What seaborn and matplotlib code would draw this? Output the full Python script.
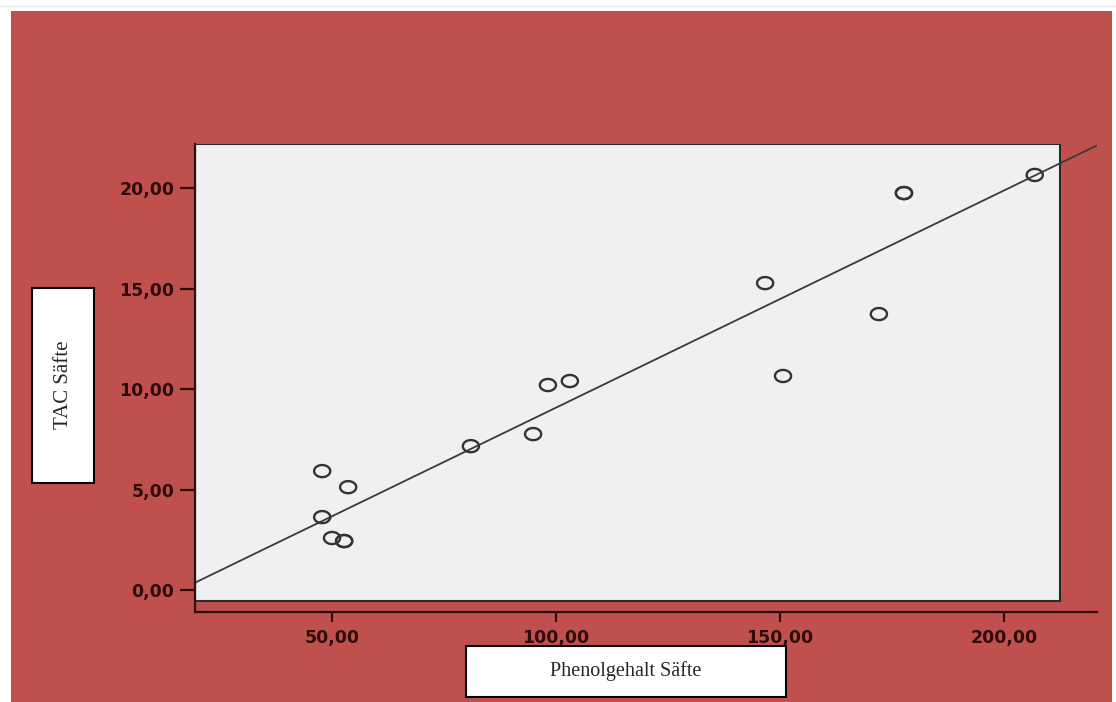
import numpy as np
import pandas as pd
import seaborn as sns
import matplotlib.pyplot as plt
from matplotlib.patches import Rectangle
from matplotlib.path import Path
from matplotlib.ticker import FuncFormatter

# values (Phenolgehalt vs. TAC of juices)
phenol = [206.9, 177.7, 177.7, 146.7, 172.1, 150.7, 98.2, 103.1, 81.0, 94.9,
          47.8, 53.6, 47.8, 50.0, 52.7, 52.7]
tac = [20.65, 19.75, 19.75, 15.27, 13.73, 10.65, 10.2, 10.4, 7.16, 7.76,
       5.92, 5.12, 3.63, 2.59, 2.44, 2.44]
x_ticks = [50, 100, 150, 200]
y_ticks = [0, 5, 10, 15, 20]
x_label = "Phenolgehalt Säfte"
y_label = "TAC Säfte"

df = pd.DataFrame({"phenol": phenol, "tac": tac})

sns.set_style("ticks")
plt.rcParams['font.family'] = ['DejaVu Sans']

W, H = 1116, 702
red = "#C0504D"
dark = "#2e0c0c"

fig = plt.figure(figsize=(W / 100, H / 100), dpi=100, facecolor="white")


def fx(px):
    return px / W


def fy(py):
    return 1 - py / H


# red background panel
fig.patches.append(Rectangle((fx(11), fy(702)), fx(1112) - fx(11), fy(11) - fy(702),
                             transform=fig.transFigure, facecolor=red, edgecolor="none", zorder=-1))
fig.add_artist(plt.Line2D([0, 1], [fy(6), fy(6)], color="#e6e6e6", lw=1, zorder=-1))

ax = fig.add_axes([fx(195), fy(612), fx(1097) - fx(195), fy(144) - fy(612)])
ax.set_facecolor("none")
ax.set_xlim(19.4, 220.8)
ax.set_ylim(-1.09, 22.19)

# light gray plotting box
ax.add_patch(Rectangle((0, 0.0235), 0.959, 0.9765, transform=ax.transAxes,
                       facecolor="#F0F0F0", edgecolor="#2a2a2a", lw=1.5, zorder=0))

# slightly flattened circle marker, like the stretched original
t = np.linspace(0, 2 * np.pi, 60)
ellipse = Path(np.column_stack([np.cos(t), 0.75 * np.sin(t)]), closed=True)

sns.regplot(data=df, x="phenol", y="tac", ax=ax, scatter=False, ci=None,
            truncate=False, line_kws={"color": "#3a3a3a", "lw": 1.3})
sns.scatterplot(data=df, x="phenol", y="tac", ax=ax, marker=ellipse, s=135,
                facecolor="none", edgecolor="#333333", linewidth=1.7, zorder=3)

for s in ["top", "right"]:
    ax.spines[s].set_visible(False)
for s in ["left", "bottom"]:
    ax.spines[s].set_color("#2a1010")
    ax.spines[s].set_linewidth(1.6)

ax.set_xticks(x_ticks)
ax.set_yticks(y_ticks)
fmt = FuncFormatter(lambda v, p: f"{v:.2f}".replace(".", ","))
ax.xaxis.set_major_formatter(fmt)
ax.yaxis.set_major_formatter(fmt)
ax.tick_params(axis="y", length=10.8, width=1.6, color=dark, pad=4,
               labelsize=12.5, labelcolor=dark)
ax.tick_params(axis="x", length=7.5, width=1.6, color=dark, pad=5,
               labelsize=12.5, labelcolor=dark)
for lab in ax.get_xticklabels() + ax.get_yticklabels():
    lab.set_fontweight("bold")
ax.set_xlabel("")
ax.set_ylabel("")

# white label boxes
fig.patches.append(Rectangle((fx(32), fy(483)), fx(94) - fx(32), fy(288) - fy(483),
                             transform=fig.transFigure, facecolor="white",
                             edgecolor="black", lw=1.5, zorder=5))
fig.text(fx(63), fy(385), y_label, rotation=90, ha="center", va="center",
         family="Liberation Serif", fontsize=15, zorder=6)
fig.patches.append(Rectangle((fx(466), fy(697)), fx(786) - fx(466), fy(646) - fy(697),
                             transform=fig.transFigure, facecolor="white",
                             edgecolor="black", lw=1.5, zorder=5))
fig.text(fx(626), fy(671), x_label, ha="center", va="center",
         family="Liberation Serif", fontsize=14.5, zorder=6)

fig.savefig("out.png", dpi=100, facecolor="white")
